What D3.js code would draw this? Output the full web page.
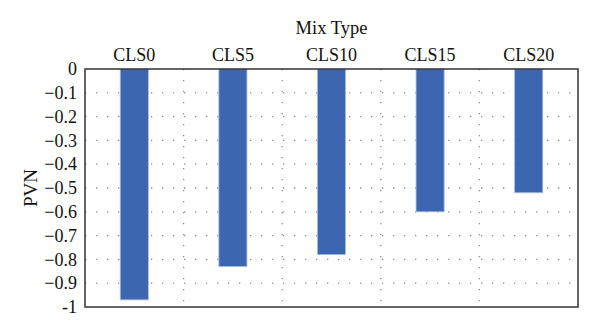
<!DOCTYPE html>
<html><head><meta charset="utf-8">
<script src="https://cdn.jsdelivr.net/npm/d3@7"></script>
<style>body{margin:0;background:#fff}</style>
</head><body>
<svg id="c" width="600" height="333"></svg>
<script>
const categories = ["CLS0","CLS5","CLS10","CLS15","CLS20"];
const values = [-0.97,-0.83,-0.78,-0.60,-0.52];
const yTicks = [0,-0.1,-0.2,-0.3,-0.4,-0.5,-0.6,-0.7,-0.8,-0.9,-1];

const svg = d3.select("#c");
const m = {l:85, r:22, t:69, b:26};
const W = 600, H = 333;
const x = d3.scaleBand().domain(categories).range([m.l, W-m.r]).paddingInner(0).paddingOuter(0);
const y = d3.scaleLinear().domain([0,-1]).range([m.t, H-m.b]);
const font = "Liberation Serif, Times New Roman, serif";

// horizontal dotted grid
svg.append("g").selectAll("line").data(yTicks.filter(d=>d!==0 && d!==-1)).join("line")
  .attr("x1", m.l).attr("x2", W-m.r)
  .attr("y1", d=>y(d)).attr("y2", d=>y(d))
  .attr("stroke","#8a8a8a").attr("stroke-width",1.3).attr("stroke-dasharray","1.3,9.7");
// vertical dotted grid at category boundaries
svg.append("g").selectAll("line").data(categories.slice(1)).join("line")
  .attr("x1", d=>x(d)).attr("x2", d=>x(d))
  .attr("y1", m.t).attr("y2", H-m.b)
  .attr("stroke","#8a8a8a").attr("stroke-width",1.3).attr("stroke-dasharray","1.3,9.7");

// bars
const bw = x.bandwidth()*0.285;
svg.append("g").selectAll("rect").data(values).join("rect")
  .attr("x", (d,i)=>x(categories[i]) + x.bandwidth()/2 - bw/2)
  .attr("y", y(0))
  .attr("width", bw)
  .attr("height", d=>y(d)-y(0))
  .attr("fill","#3d66b0").attr("stroke","#a8bce4").attr("stroke-width",0.8);

// frame
svg.append("rect").attr("x",m.l).attr("y",m.t).attr("width",W-m.r-m.l).attr("height",H-m.b-m.t)
  .attr("fill","none").attr("stroke","#333").attr("stroke-width",1.5);

// y axis labels
const yAxis = d3.axisLeft(y).tickValues(yTicks).tickSize(0).tickPadding(8)
  .tickFormat(d=> d===0 ? "0" : (d===-1 ? "-1" : d3.format(".1f")(d)));
const ga = svg.append("g").attr("transform",`translate(${m.l},0)`).call(yAxis);
ga.select(".domain").remove();
ga.selectAll("text").attr("font-family",font).attr("font-size",18).attr("fill","#111");

// top category labels
const xAxis = d3.axisTop(x).tickSize(0).tickPadding(8);
const gx = svg.append("g").attr("transform",`translate(0,${m.t})`).call(xAxis);
gx.select(".domain").remove();
gx.selectAll("text").attr("font-family",font).attr("font-size",18).attr("fill","#111");

// titles
svg.append("text").attr("x", (m.l+W-m.r)/2).attr("y", 34).attr("text-anchor","middle")
  .attr("font-family",font).attr("font-size",18.5).attr("fill","#111").text("Mix Type");
svg.append("text").attr("transform",`translate(37,${(m.t+H-m.b)/2}) rotate(-90)`).attr("text-anchor","middle")
  .attr("font-family",font).attr("font-size",19).attr("fill","#111").text("PVN");
</script>
</body></html>
